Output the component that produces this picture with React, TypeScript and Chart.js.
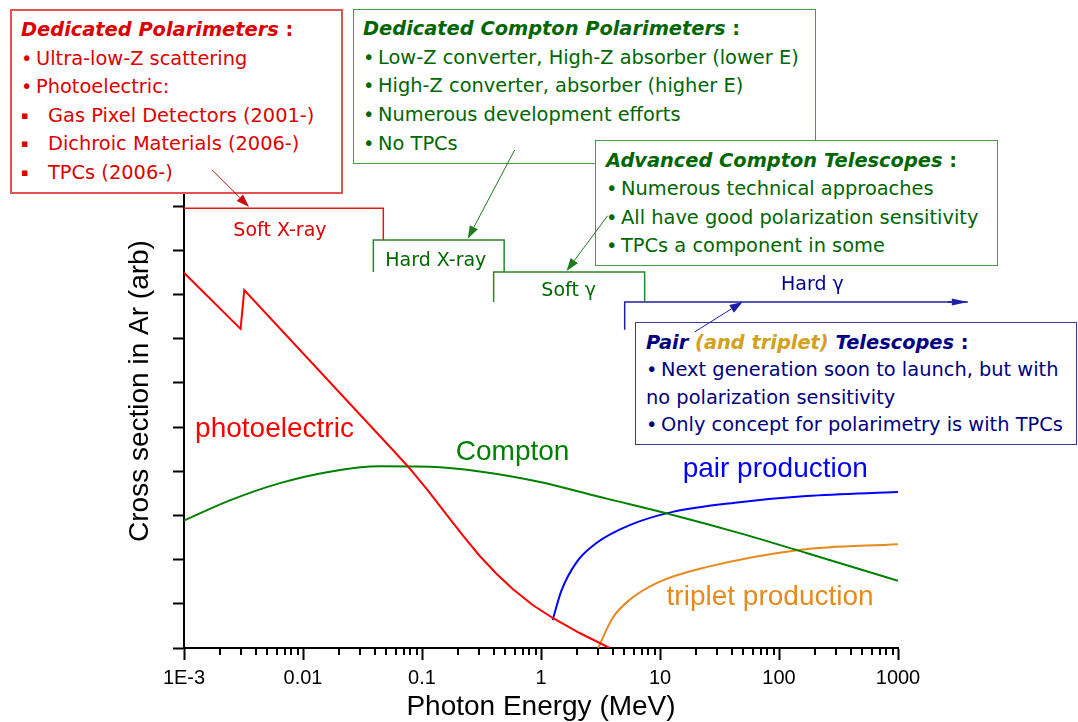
import React, { useEffect, useRef } from 'react';
import { Chart, registerables } from 'chart.js';

Chart.register(...registerables);

// ---------------- axis ticks ----------------
const xTickValues = [0.001, 0.01, 0.1, 1, 10, 100, 1000];
const xTickLabels = ['1E-3', '0.01', '0.1', '1', '10', '100', '1000'];
const xMinorSteps = [2, 3, 4, 5, 6, 7, 8, 9];
const yTickValues = [0, 1, 2, 3, 4, 5, 6, 7, 8, 9, 10, 11];

// ---------------- series (energy in MeV, cross section in arb.) ----------------
const photoEnergy = [0.001, 0.00299, 0.00321, 0.0569, 0.0775, 0.1119, 0.1615, 0.2202, 0.3057, 0.4246, 0.5786, 0.8519, 1.254, 2.11, 3.774];
const photoSigma = [8.49, 7.22, 8.1, 4.48, 4.085, 3.564, 3.01, 2.546, 2.082, 1.675, 1.335, 0.973, 0.679, 0.339, 0.0];

const comptonEnergy = [0.001, 0.00243, 0.0064, 0.0168, 0.0443, 0.1165, 0.3057, 0.98, 3.56, 12.8, 46.6, 170, 1000];
const comptonSigma = [2.885, 3.34, 3.73, 3.99, 4.11, 4.1, 3.995, 3.757, 3.38, 3.01, 2.6, 2.15, 1.52];

const pairEnergy = [1.25, 1.49, 2.0, 2.94, 5.56, 12.8, 46.6, 170, 1000];
const pairSigma = [0.63, 1.31, 1.95, 2.38, 2.78, 3.08, 3.3, 3.44, 3.53];

const tripletEnergy = [3.02, 4.0, 5.56, 9.36, 24.6, 149, 1000];
const tripletSigma = [0.0, 0.68, 1.09, 1.47, 1.83, 2.22, 2.35];

// ---------------- energy bands ----------------
const bandNames = ['Soft X-ray', 'Hard X-ray', 'Soft \u03b3', 'Hard \u03b3'];
const bandLowE = [0.001, 0.039, 0.4, 5.05];
const bandHighE = [0.0473, 0.49, 7.43, 3860];
const bandLevel = [9.95, 9.23, 8.51, 7.83];
const bandLowFoot = [9.95, 8.51, 7.83, 7.2];
const bandHighFoot = [9.23, 8.51, 7.83, 7.83];

const curveNames = ['photoelectric', 'Compton', 'pair production', 'triplet production'];

// ---------------- styling / annotation layout ----------------
const curveColors = ['#ff0000', '#008000', '#0000ff', '#e68a1e'];
const bandColors = ['#e01818', '#2a862a', '#2a862a', '#1e1ea8'];
const bandTextColors = ['#e00000', '#006800', '#006800', '#000099'];
const curveLabelAnchor: [number, number][] = [
  [0.00124, 4.775],
  [0.1923, 4.254],
  [15.5, 3.87],
  [11.36, 0.973],
];
const bandLabelAnchor: [number, number][] = [
  [0.0064, 9.44],
  [0.1306, 8.76],
  [1.71, 8.08],
  [191, 8.21],
];
const arrowNotes = [
  { from: [0.00172, 10.82], to: [0.00352, 9.98], color: '#c81010' },
  { from: [0.601, 11.27], to: [0.2424, 9.26], color: '#1f7a1f' },
  { from: [3.63, 9.78], to: [1.64, 8.53], color: '#1f7a1f' },
  { from: [19.5, 7.15], to: [49.4, 7.83], color: '#1e1ea8' },
];

const axisFont = '"Liberation Sans", Arial, Helvetica, sans-serif';
const boxFont = '"DejaVu Sans", Verdana, sans-serif';

function pts(xs: number[], ys: number[]) {
  return xs.map((x, i) => ({ x, y: ys[i] }));
}

function drawArrow(
  ctx: CanvasRenderingContext2D,
  x1: number, y1: number, x2: number, y2: number,
  color: string, len: number, half: number, lw: number
) {
  const ang = Math.atan2(y2 - y1, x2 - x1);
  const bx = x2 - len * Math.cos(ang);
  const by = y2 - len * Math.sin(ang);
  ctx.strokeStyle = color;
  ctx.fillStyle = color;
  ctx.lineWidth = lw;
  ctx.beginPath();
  ctx.moveTo(x1, y1);
  ctx.lineTo(bx, by);
  ctx.stroke();
  ctx.beginPath();
  ctx.moveTo(x2, y2);
  ctx.lineTo(bx + half * Math.sin(ang), by - half * Math.cos(ang));
  ctx.lineTo(bx - half * Math.sin(ang), by + half * Math.cos(ang));
  ctx.closePath();
  ctx.fill();
}

type BoxProps = {
  left: number; top: number; width: number; height: number;
  borderColor: string; borderWidth: number; color: string;
  padTop: number; padLeft: number; lineHeight: number; children: any;
};

function Box(p: BoxProps) {
  return (
    <div
      style={{
        position: 'absolute', left: p.left, top: p.top, width: p.width, height: p.height,
        boxSizing: 'border-box', border: `${p.borderWidth}px solid ${p.borderColor}`,
        background: '#fff', color: p.color, fontFamily: boxFont, fontSize: 19.4,
        lineHeight: `${p.lineHeight}px`, paddingTop: p.padTop, paddingLeft: p.padLeft,
        whiteSpace: 'nowrap', overflow: 'hidden',
      }}
    >
      {p.children}
    </div>
  );
}

const B = () => <span style={{ display: 'inline-block', width: 15 }}>{'\u2022'}</span>;
const Sq = () => <span style={{ display: 'inline-block', width: 27, fontSize: 11, verticalAlign: 'top' }}>{'\u25aa'}</span>;
const Title = ({ text }: { text: string }) => (
  <div>
    <span style={{ fontWeight: 700, fontStyle: 'italic' }}>{text}</span>
    <span style={{ fontWeight: 700 }}> :</span>
  </div>
);

export default function App() {
  const canvasRef = useRef<HTMLCanvasElement>(null);
  const overlayRef = useRef<HTMLCanvasElement>(null);

  useEffect(() => {
    const canvas = canvasRef.current as HTMLCanvasElement;
    const overlay = overlayRef.current as HTMLCanvasElement;

    const annotate = {
      id: 'annotate',
      afterDraw(chart: any) {
        const { ctx, chartArea } = chart;
        const xs = chart.scales.x;
        const ys = chart.scales.y;
        const px = (v: number) => xs.getPixelForValue(v);
        const py = (v: number) => ys.getPixelForValue(v);

        ctx.save();
        // minor x ticks
        ctx.strokeStyle = '#000';
        ctx.lineWidth = 2;
        for (let i = 0; i < xTickValues.length - 1; i++) {
          for (const m of xMinorSteps) {
            const X = Math.round(px(xTickValues[i] * m));
            ctx.beginPath();
            ctx.moveTo(X, chartArea.bottom);
            ctx.lineTo(X, chartArea.bottom + 7);
            ctx.stroke();
          }
        }
        // curve labels
        ctx.font = `28px ${axisFont}`;
        ctx.textAlign = 'left';
        ctx.textBaseline = 'alphabetic';
        curveNames.forEach((t, i) => {
          ctx.fillStyle = curveColors[i];
          ctx.fillText(t, px(curveLabelAnchor[i][0]), py(curveLabelAnchor[i][1]));
        });
        // band labels
        ctx.font = `19px ${boxFont}`;
        ctx.textAlign = 'center';
        ctx.textBaseline = 'middle';
        bandNames.forEach((t, i) => {
          ctx.fillStyle = bandTextColors[i];
          ctx.fillText(t, px(bandLabelAnchor[i][0]), py(bandLabelAnchor[i][1]));
        });
        ctx.restore();

        // arrows on the overlay (above the text boxes)
        const o = overlay.getContext('2d') as CanvasRenderingContext2D;
        o.clearRect(0, 0, overlay.width, overlay.height);
        arrowNotes.forEach((a) => {
          drawArrow(o, px(a.from[0]), py(a.from[1]), px(a.to[0]), py(a.to[1]), a.color, 13, 4.5, 1);
        });
        const last = bandNames.length - 1;
        const ex = px(bandHighE[last]);
        const ey = py(bandLevel[last]);
        drawArrow(o, ex - 20, ey, ex, ey, bandColors[last], 16, 3.5, 1.5);
      },
    };

    const curveSets = [
      [photoEnergy, photoSigma],
      [comptonEnergy, comptonSigma],
      [pairEnergy, pairSigma],
      [tripletEnergy, tripletSigma],
    ].map(([xs, ys], i) => ({
      label: curveNames[i],
      data: pts(xs, ys),
      borderColor: curveColors[i],
      borderWidth: 2,
      pointRadius: 0,
      fill: false,
      tension: i === 0 ? 0 : 0.4,
      cubicInterpolationMode: i === 0 ? 'default' : 'monotone',
    }));

    const bandSets = bandNames.map((name, i) => ({
      label: name,
      data: [
        { x: bandLowE[i], y: bandLowFoot[i] },
        { x: bandLowE[i], y: bandLevel[i] },
        { x: bandHighE[i], y: bandLevel[i] },
        { x: bandHighE[i], y: bandHighFoot[i] },
      ],
      borderColor: bandColors[i],
      borderWidth: 1.5,
      pointRadius: 0,
      fill: false,
      tension: 0,
      clip: false,
    }));

    const chart = new Chart(canvas, {
      type: 'line',
      data: { datasets: [...bandSets, ...curveSets] as any },
      plugins: [annotate],
      options: {
        animation: false,
        responsive: false,
        devicePixelRatio: 1,
        events: [],
        layout: { autoPadding: false, padding: { left: 123, right: 180, top: 134, bottom: 4 } },
        plugins: { legend: { display: false }, tooltip: { enabled: false } },
        scales: {
          x: {
            type: 'logarithmic',
            min: 0.001,
            max: 1000,
            afterBuildTicks: (axis: any) => {
              axis.ticks = xTickValues.map((v) => ({ value: v, major: true }));
            },
            ticks: {
              autoSkip: false,
              maxRotation: 0,
              padding: 6,
              color: '#000',
              font: { family: axisFont, size: 20 },
              callback: (value: any) => {
                const idx = xTickValues.findIndex((v) => Math.abs(v - Number(value)) / v < 1e-6);
                return idx >= 0 ? xTickLabels[idx] : '';
              },
            },
            grid: {
              display: true,
              drawOnChartArea: false,
              drawTicks: true,
              tickLength: 12,
              tickWidth: 2,
              tickColor: '#000',
            },
            border: { display: true, color: '#000', width: 2 },
            title: {
              display: true,
              text: 'Photon Energy (MeV)',
              color: '#000',
              font: { family: axisFont, size: 28, lineHeight: 0.7857 },
              padding: { top: 0, bottom: 0 },
            },
          },
          y: {
            type: 'linear',
            min: 0,
            max: 11.63,
            afterBuildTicks: (axis: any) => {
              axis.ticks = yTickValues.map((v) => ({ value: v }));
            },
            ticks: { display: false },
            grid: {
              display: true,
              drawOnChartArea: false,
              drawTicks: true,
              tickLength: 11,
              tickWidth: 2,
              tickColor: '#000',
            },
            border: { display: true, color: '#000', width: 2 },
            title: {
              display: true,
              text: 'Cross section in Ar (arb)',
              color: '#000',
              font: { family: axisFont, size: 28 },
              padding: { top: 0, bottom: 16.4 },
            },
          },
        },
      } as any,
    });

    return () => chart.destroy();
  }, []);

  return (
    <div style={{ position: 'absolute', left: 0, top: 0, width: 1078, height: 722, background: '#fff', overflow: 'hidden' }}>
      <canvas ref={canvasRef} width={1078} height={722} style={{ position: 'absolute', left: 0, top: 0 }} />

      <Box left={10} top={9} width={333} height={185} borderColor="#e05454" borderWidth={2} color="#dd0000"
        padTop={5} padLeft={9} lineHeight={28.6}>
        <Title text="Dedicated Polarimeters" />
        <div><B />Ultra-low-Z scattering</div>
        <div><B />Photoelectric:</div>
        <div><Sq />Gas Pixel Detectors (2001-)</div>
        <div><Sq />Dichroic Materials (2006-)</div>
        <div><Sq />TPCs (2006-)</div>
      </Box>

      <Box left={353} top={9} width={463} height={155} borderColor="#4a9a4a" borderWidth={1.5} color="#006600"
        padTop={5} padLeft={9} lineHeight={28.7}>
        <Title text="Dedicated Compton Polarimeters" />
        <div><B />Low-Z converter, High-Z absorber (lower E)</div>
        <div><B />High-Z converter, absorber (higher E)</div>
        <div><B />Numerous development efforts</div>
        <div><B />No TPCs</div>
      </Box>

      <Box left={595} top={140} width={403} height={126} borderColor="#4a9a4a" borderWidth={1.5} color="#006600"
        padTop={6} padLeft={10} lineHeight={28.3}>
        <Title text="Advanced Compton Telescopes" />
        <div><B />Numerous technical approaches</div>
        <div><B />All have good polarization sensitivity</div>
        <div><B />TPCs a component in some</div>
      </Box>

      <Box left={635} top={322} width={442} height={123} borderColor="#3a3a9a" borderWidth={1.5} color="#000080"
        padTop={6} padLeft={10} lineHeight={27.3}>
        <div>
          <span style={{ fontWeight: 700, fontStyle: 'italic' }}>Pair </span>
          <span style={{ fontWeight: 700, fontStyle: 'italic', color: '#d4a020' }}>(and triplet)</span>
          <span style={{ fontWeight: 700, fontStyle: 'italic' }}> Telescopes</span>
          <span style={{ fontWeight: 700 }}> :</span>
        </div>
        <div><B />Next generation soon to launch, but with</div>
        <div>no polarization sensitivity</div>
        <div><B />Only concept for polarimetry is with TPCs</div>
      </Box>

      <canvas ref={overlayRef} width={1078} height={722}
        style={{ position: 'absolute', left: 0, top: 0, pointerEvents: 'none' }} />
    </div>
  );
}
